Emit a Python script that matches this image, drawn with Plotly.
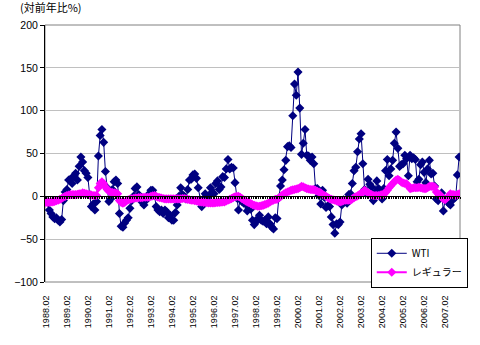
import plotly.graph_objects as go

# Monthly categories 1988.02 .. 2007.10
months = []
y, m = 1988, 2
while (y, m) <= (2007, 10):
    months.append(f"{y}.{m:02d}")
    m += 1
    if m > 12:
        y, m = y + 1, 1

wti = [
    -5, -7, -16, -20, -24, -26, -25, -28, -30, -27, -5, 5,          # 1988.02-1989.01
    8, 19, 20, 15, 24, 27, 19, 35, 46, 40, 30, 27,                  # 1989.02-1990.01
    22, 2, -12, -9, -16, -6, 47, 71, 78, 63, 29, 10,                # 1990.02-1991.01
    -6, -3, 8, 17, 19, 15, -20, -35, -36, -31, -28, -25,            # 1991.02-1992.01
    -14, -5, 0, 9, 11, 2, -1, -7, -10, -5, 0, 3,                    # 1992.02-1993.01
    7, 7, 1, -12, -16, -18, -16, -20, -16, -18, -25, -22,           # 1993.02-1994.01
    -28, -28, -19, -10, 0, 10, 2, 0, -3, 8, 19, 20,                 # 1994.02-1995.01
    25, 26, 21, 10, -4, -12, -3, 3, -2, 0, 10, 5,                   # 1995.02-1996.01
    3, 15, 18, 8, 11, 23, 22, 32, 43, 32, 34, 33,                   # 1996.02-1997.01
    16, -2, -16, -2, -6, -8, -9, -17, -14, -15, -28, -33,           # 1997.02-1998.01
    -28, -28, -22, -28, -29, -28, -32, -24, -32, -36, -38, -25,     # 1998.02-1999.01
    -26, -2, 12, 19, 31, 42, 58, 59, 57, 94, 131, 118,              # 1999.02-2000.01
    145, 103, 49, 62, 78, 48, 47, 42, 46, 38, 9, 9,                 # 2000.02-2001.01
    1, -9, 7, -1, -13, -11, -12, -24, -33, -43, -32, -33,           # 2001.02-2002.01
    -30, -10, -4, -6, -8, 2, 3, 15, 30, 34, 52, 67,                 # 2002.02-2003.01
    73, 38, 8, 4, 20, 14, 11, -5, 5, 18, 9, 4,                      # 2003.02-2004.01
    -3, 9, 30, 43, 24, 32, 42, 62, 75, 56, 35, 37,                  # 2004.02-2005.01
    38, 48, 44, 24, 48, 44, 45, 43, 17, 20, 37, 40,                 # 2005.02-2006.01
    28, 16, 32, 42, 26, 27, 12, -3, -5, 1, 4, -17,                  # 2006.02-2007.01
    -4, -4, -8, -10, -5, 0, -1, 25, 46,                             # 2007.02-2007.10
]

regular = [
    -7, -7, -7, -6.5, -6.5, -6, -5, -4.5, -3.5, -2.5, -1, 0,
    1, 1.5, 2, 2, 2, 2, 2.5, 3, 3, 4, 3.5, 3,
    2.5, 2, 1.5, 1, 1, 1, 10, 15, 17, 15, 11, 8,
    6, 5, 4.5, 4, 3.5, 3, -5, -7, -8, -7, -5.5, -4,
    -3.5, -3, -2.5, -2, -2, -1.5, -1.5, -1.5, -1, -1, -1, -1,
    0, 0.5, 1, 0, -1, -1.5, -2, -2.5, -3, -3, -3, -3,
    -3, -3, -3, -3, -3, -3, -2.5, -2.5, -3, -3.5, -4, -4.5,
    -4.6, -5, -5.5, -6, -6.5, -6.6, -7, -7.2, -7.5, -7.7, -7.7, -7.7,
    -7.7, -7.5, -7.2, -7, -6.8, -6.6, -6.6, -5.5, -4.5, -3.5, -2.7, -1.5,
    -0.5, 0, 0, -1, -2.7, -4, -5.5, -6.6, -7.5, -8.5, -9.7, -10.5,
    -11, -11.6, -11.6, -11, -10.5, -9.7, -9, -8, -6.6, -5.5, -4.5, -3.5,
    -3.5, -2, -0.5, 1.5, 3, 4, 5, 6, 7, 7.5, 8, 8.5,
    9, 10, 11.6, 11, 10, 9, 8.5, 8, 7.8, 7.8, 7, 6,
    5, 4, 2.5, 1, 0, -1.5, -2.7, -3.5, -4, -4.6, -5.5, -6,
    -6.6, -6, -5, -4.6, -4.6, -4.6, -4.6, -3, -1.5, -0.5, 0.5, 2,
    3.5, 5, 7, 5.5, 4, 3, 2, 1, 1, 1, 1, 1.5,
    2, 2.3, 4.5, 7, 10, 12.5, 14.7, 17, 19, 20, 18.5, 16.6,
    15.5, 15, 14.7, 12, 9, 9.5, 10, 10, 10, 10.5, 10, 9.5,
    9, 9, 10, 11.6, 11.6, 11.6, 11, 5, 3, 2, -1, -3,
    -4, -2, 0, 3, 2, 2, 1, 2, 3,
]

series_names = ["WTI", "レギュラー"]
y_ticks = [-100, -50, 0, 50, 100, 150, 200]

idx = list(range(len(months)))
tick_vals = [i for i, s in enumerate(months) if s.endswith(".02")]
tick_text = [months[i] for i in tick_vals]

FONT = "Arial, 'Liberation Sans', 'Noto Sans CJK JP', sans-serif"
JFONT = "'Noto Sans CJK JP', 'Liberation Sans', sans-serif"

fig = go.Figure()
fig.add_trace(go.Scatter(
    x=idx, y=wti, name=series_names[0], mode="lines+markers",
    line=dict(color="#000080", width=1),
    marker=dict(symbol="diamond", size=7, color="#000080"),
    xaxis="x", yaxis="y",
))
fig.add_trace(go.Scatter(
    x=idx, y=regular, name=series_names[1], mode="lines+markers",
    line=dict(color="#FF00FF", width=2),
    marker=dict(symbol="diamond", size=7, color="#FF00FF"),
    xaxis="x2", yaxis="y",
))

xr = [-0.5, len(months) - 0.5]
fig.update_layout(
    width=480, height=345,
    margin=dict(l=45, r=13, t=25, b=63),
    paper_bgcolor="white", plot_bgcolor="white",
    font=dict(family=FONT, size=10, color="black"),
    showlegend=True,
    legend=dict(
        x=0.785, y=0.172, xanchor="left", yanchor="top",
        bordercolor="black", borderwidth=1, bgcolor="white",
        font=dict(family=JFONT, size=10), itemwidth=30,
        tracegroupgap=0,
    ),
    xaxis=dict(
        range=xr, showgrid=False, zeroline=False, showline=False,
        tickmode="array", tickvals=tick_vals, ticktext=tick_text,
        tickangle=-90, ticks="outside", ticklen=9, tickcolor="rgba(0,0,0,0)",
        tickfont=dict(size=9, family=FONT),
    ),
    xaxis2=dict(
        overlaying="x", range=xr, anchor="free", position=1/3,
        showgrid=False, zeroline=False, showline=True, linecolor="black", linewidth=1,
        tickmode="linear", tick0=-0.5, dtick=1, ticks="outside", ticklen=2,
        tickcolor="black", tickwidth=1, showticklabels=False,
    ),
    yaxis=dict(
        range=[-100, 200], tickmode="array", tickvals=y_ticks,
        showgrid=True, gridcolor="#C0C0C0", gridwidth=1,
        zeroline=False, showline=True, linecolor="black", linewidth=1,
        ticks="outside", ticklen=4, tickcolor="black",
        tickfont=dict(size=10.5, family=FONT),
    ),
    shapes=[dict(type="rect", xref="paper", yref="paper", x0=0, x1=1, y0=0, y1=1,
                 line=dict(color="#808080", width=1), layer="below")],
    annotations=[dict(text="(対前年比%)", xref="paper", yref="paper",
                      x=0, xshift=-27, y=1, yshift=18, xanchor="left", yanchor="middle",
                      showarrow=False, font=dict(family=JFONT, size=11))],
)

fig.write_html("out.html")
